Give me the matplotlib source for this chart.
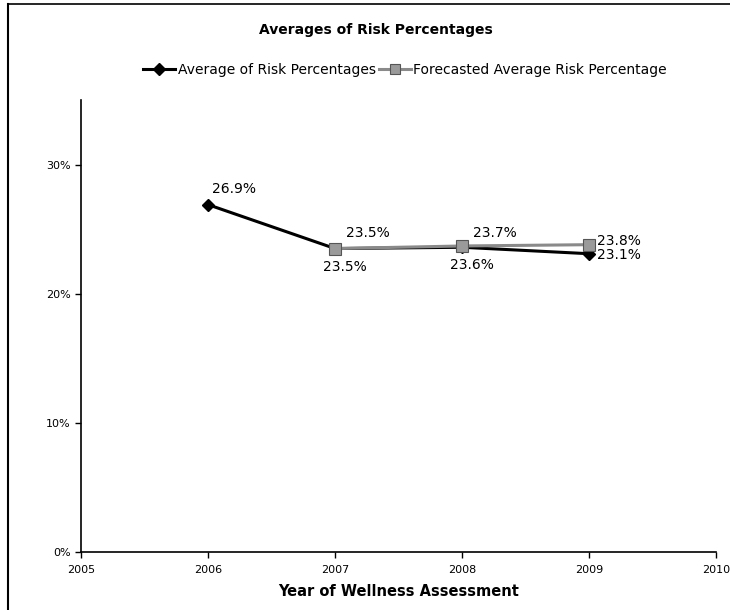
import matplotlib.pyplot as plt
from matplotlib.lines import Line2D
from matplotlib.ticker import FuncFormatter

years_actual = [2006, 2007, 2008, 2009]
risk_actual = [26.9, 23.5, 23.6, 23.1]
years_forecast = [2007, 2008, 2009]
risk_forecast = [23.5, 23.7, 23.8]

# label offsets in points (dx, dy, ha, va)
actual_offsets = [(3, 6, 'left', 'bottom'), (-9, -8, 'left', 'top'),
                  (-9, -8, 'left', 'top'), (6, -1, 'left', 'center')]
forecast_offsets = [(8, 6, 'left', 'bottom'), (8, 4, 'left', 'bottom'),
                    (6, 3, 'left', 'center')]

plt.rcParams['font.family'] = ['DejaVu Sans']
fig = plt.figure(figsize=(7.3, 6.1), dpi=100)
ax = fig.add_axes([0.111, 0.095, 0.870, 0.741])

ax.plot(years_actual, risk_actual, color='black', lw=2.2, marker='D',
        ms=6, mfc='black', mec='black', zorder=3)
ax.plot(years_forecast, risk_forecast, color='#8a8a8a', lw=2.2, marker='s',
        ms=8, mfc='#9a9a9a', mec='#555555', mew=0.8, zorder=4)

for x, y, (dx, dy, ha, va) in zip(years_actual, risk_actual, actual_offsets):
    ax.annotate(f'{y:.1f}%', (x, y), xytext=(dx, dy), textcoords='offset points',
                ha=ha, va=va, fontsize=10)
for x, y, (dx, dy, ha, va) in zip(years_forecast, risk_forecast, forecast_offsets):
    ax.annotate(f'{y:.1f}%', (x, y), xytext=(dx, dy), textcoords='offset points',
                ha=ha, va=va, fontsize=10)

ax.set_xlim(2005, 2010)
ax.set_ylim(0, 35)
ax.set_xticks([2005, 2006, 2007, 2008, 2009, 2010])
ax.set_yticks([0, 10, 20, 30])
ax.yaxis.set_major_formatter(FuncFormatter(lambda v, p: f'{v:.0f}%'))
ax.tick_params(axis='both', labelsize=8, length=4, width=1, color='black')
ax.tick_params(axis='x', pad=5)
ax.spines['top'].set_visible(False)
ax.spines['right'].set_visible(False)
ax.spines['left'].set_linewidth(1.2)
ax.spines['bottom'].set_linewidth(1.2)
ax.set_xlabel('Year of Wellness Assessment', fontsize=10.5, fontweight='bold', labelpad=7)

fig.text(0.515, 0.951, 'Averages of Risk Percentages', ha='center', va='center',
         fontsize=10, fontweight='bold')

handles = [
    Line2D([], [], color='black', lw=2.2, marker='D', ms=6, mfc='black'),
    Line2D([], [], color='#8a8a8a', lw=2.2, marker='s', ms=7, mfc='#9a9a9a',
           mec='#555555', mew=0.8),
]
fig.legend(handles, ['Average of Risk Percentages', 'Forecasted Average Risk Percentage'],
           loc='center', bbox_to_anchor=(0.555, 0.886), ncol=2, frameon=False,
           fontsize=10, handlelength=2.3, handletextpad=0.2, columnspacing=0.2)

# outer frame lines
fig.add_artist(Line2D([0.011, 0.011], [0, 0.994], color='black', lw=1.5,
                      transform=fig.transFigure))
fig.add_artist(Line2D([0.011, 1.0], [0.994, 0.994], color='black', lw=1.2,
                      transform=fig.transFigure))

fig.savefig('out.png', dpi=100)
